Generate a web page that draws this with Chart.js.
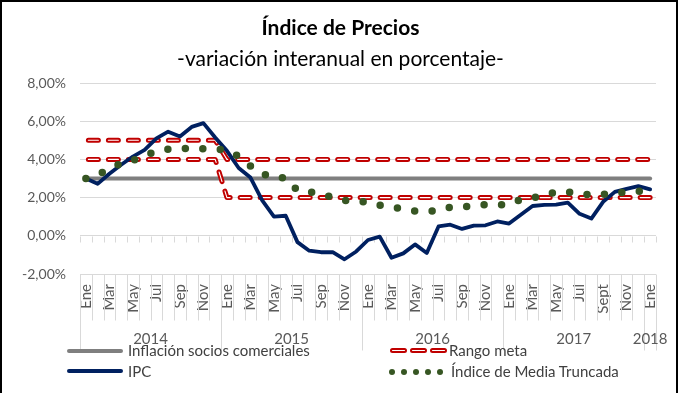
<!DOCTYPE html>
<html>
<head>
<meta charset="utf-8">
<script src="https://cdn.jsdelivr.net/npm/chart.js@4.4.1/dist/chart.umd.min.js"></script>
<style>
html,body{margin:0;padding:0;background:#fff;}
#wrap{position:relative;width:681px;height:393px;overflow:hidden;font-family:Lato,"Open Sans",sans-serif;background:#fff;}
#frame{position:absolute;left:0;top:0;width:678px;height:400px;border:2px solid #000;box-sizing:border-box;pointer-events:none;}
#c{position:absolute;left:0;top:0;}
.t{position:absolute;left:0;width:681px;text-align:center;color:#000;white-space:nowrap;}
#title{top:14px;font-size:21px;font-weight:bold;line-height:26px;}
#sub{top:45px;font-size:21px;line-height:26px;}
.lg{position:absolute;font-size:15px;line-height:18px;color:#404040;white-space:nowrap;}
.sw{position:absolute;}
</style>
</head>
<body>
<div id="wrap">
  <canvas id="c" width="681" height="393"></canvas>
  <div class="t" id="title">Índice de Precios</div>
  <div class="t" id="sub">-variación interanual en porcentaje-</div>

  <div class="sw" style="left:67px;top:349px;width:56px;height:4px;background:#7f7f7f;border-radius:2px;"></div>
  <div class="lg" style="left:128px;top:341px;">Inflación socios comerciales</div>
  <div class="sw" style="left:67px;top:369px;width:56px;height:4px;background:#002060;border-radius:2px;"></div>
  <div class="lg" style="left:128px;top:362px;">IPC</div>

  <div class="sw" style="left:390px;top:348px;width:13px;height:1px;border:2px solid #c00000;border-radius:3px;background:#fff;"></div>
  <div class="sw" style="left:410px;top:348px;width:13px;height:1px;border:2px solid #c00000;border-radius:3px;background:#fff;"></div>
  <div class="sw" style="left:430px;top:348px;width:13px;height:1px;border:2px solid #c00000;border-radius:3px;background:#fff;"></div>
  <div class="lg" style="left:449px;top:341px;">Rango meta</div>

  <div class="sw" style="left:389px;top:369px;width:6px;height:6px;border-radius:3px;background:#375623;"></div>
  <div class="sw" style="left:401px;top:369px;width:6px;height:6px;border-radius:3px;background:#375623;"></div>
  <div class="sw" style="left:413px;top:369px;width:6px;height:6px;border-radius:3px;background:#375623;"></div>
  <div class="sw" style="left:425px;top:369px;width:6px;height:6px;border-radius:3px;background:#375623;"></div>
  <div class="sw" style="left:437px;top:369px;width:6px;height:6px;border-radius:3px;background:#375623;"></div>
  <div class="lg" style="left:451px;top:362px;">Índice de Media Truncada</div>

  <div id="frame"></div>
</div>
<script>
// ---- Data ----
const monthLabels = [
  'Ene','Feb','Mar','Abr','May','Jun','Jul','Ago','Sep','Oct','Nov','Dic',
  'Ene','Feb','Mar','Abr','May','Jun','Jul','Ago','Sep','Oct','Nov','Dic',
  'Ene','Feb','Mar','Abr','May','Jun','Jul','Ago','Sep','Oct','Nov','Dic',
  'Ene','Feb','Mar','Abr','May','Jun','Jul','Ago','Sept','Oct','Nov','Dic',
  'Ene'
];
const yearLabels = ['2014','2015','2016','2017','2018'];
const monthsPerYear = [12,12,12,12,1];
const yTickValues = [-2,0,2,4,6,8];

const ipc = [
  3.00, 2.72, 3.25, 3.72, 4.15, 4.50, 5.10, 5.45, 5.20, 5.70, 5.90, 5.15,
  4.45, 3.55, 3.05, 1.85, 1.00, 1.05, -0.33, -0.78, -0.86, -0.86, -1.23, -0.82,
  -0.22, -0.04, -1.15, -0.92, -0.45, -0.90, 0.49, 0.58, 0.36, 0.53, 0.55, 0.75,
  0.64, 1.10, 1.56, 1.62, 1.63, 1.74, 1.15, 0.90, 1.78, 2.30, 2.46, 2.60,
  2.43
];
const mediaTruncada = [
  3.00, 3.20, 3.49, 3.80, 3.94, 4.20, 4.43, 4.53, 4.57, 4.58, 4.55, 4.55,
  4.47, 4.16, 3.66, 3.25, 3.04, 3.04, 2.37, 2.30, 2.18, 2.02, 1.86, 1.80,
  1.78, 1.60, 1.49, 1.42, 1.30, 1.27, 1.33, 1.49, 1.52, 1.56, 1.63, 1.61,
  1.65, 1.90, 1.99, 2.11, 2.31, 2.29, 2.23, 2.13, 2.17, 2.23, 2.30, 2.33,
  2.38
];
const rangoSup = [
  5,5,5,5,5,5,5,5,5,5,5,5,
  4,4,4,4,4,4,4,4,4,4,4,4,
  4,4,4,4,4,4,4,4,4,4,4,4,
  4,4,4,4,4,4,4,4,4,4,4,4,
  4
];
const rangoInf = [
  4,4,4,4,4,4,4,4,4,4,4,4,
  2,2,2,2,2,2,2,2,2,2,2,2,
  2,2,2,2,2,2,2,2,2,2,2,2,
  2,2,2,2,2,2,2,2,2,2,2,2,
  2
];
const sociosComerciales = [
  3,3,3,3,3,3,3,3,3,3,3,3,
  3,3,3,3,3,3,3,3,3,3,3,3,
  3,3,3,3,3,3,3,3,3,3,3,3,
  3,3,3,3,3,3,3,3,3,3,3,3,
  3
];

// ---- Helpers ----
function categoryBounds(xs, n) {
  const b = [];
  const step = n > 1 ? xs.getPixelForValue(1) - xs.getPixelForValue(0) : 0;
  for (let j = 0; j <= n; j++) {
    if (j === 0) b.push(xs.getPixelForValue(0) - step / 2);
    else if (j === n) b.push(xs.getPixelForValue(n - 1) + step / 2);
    else b.push((xs.getPixelForValue(j - 1) + xs.getPixelForValue(j)) / 2);
  }
  return b;
}
function yearBoundarySet() {
  const s = new Set([0]); let acc = 0;
  monthsPerYear.forEach(m => { acc += m; s.add(acc); });
  return s;
}

const axisDecor = {
  id: 'axisDecor',
  beforeDatasetsDraw(chart) {
    const {ctx, scales: {x, y}} = chart;
    const b = categoryBounds(x, monthLabels.length);
    const y0 = Math.round(y.getPixelForValue(0)) + 0.5;
    ctx.save();
    ctx.strokeStyle = '#d9d9d9'; ctx.lineWidth = 1;
    b.forEach(px => {
      const xx = Math.round(px) + 0.5;
      ctx.beginPath(); ctx.moveTo(xx, y0); ctx.lineTo(xx, y0 + 6); ctx.stroke();
    });
    ctx.restore();
  },
  afterDraw(chart) {
    const {ctx, chartArea: a, scales: {x}} = chart;
    const b = categoryBounds(x, monthLabels.length);
    const ys = yearBoundarySet();
    ctx.save();
    ctx.strokeStyle = '#d9d9d9'; ctx.lineWidth = 1;
    const yb = Math.round(a.bottom) + 0.5;
    b.forEach((px, j) => {
      const xx = Math.round(px) + 0.5;
      ctx.beginPath(); ctx.moveTo(xx, yb); ctx.lineTo(xx, yb + (ys.has(j) ? 76 : 46)); ctx.stroke();
    });
    ctx.fillStyle = '#595959';
    ctx.font = '15px Lato, "Open Sans", sans-serif';
    ctx.textAlign = 'center'; ctx.textBaseline = 'middle';
    let start = 0;
    yearLabels.forEach((lab, k) => {
      const end = start + monthsPerYear[k];
      ctx.fillText(lab, (b[start] + b[end]) / 2, a.bottom + 65);
      start = end;
    });
    ctx.restore();
  }
};

const common = {pointRadius: 0, pointHoverRadius: 0, tension: 0, fill: false, borderJoinStyle: 'round'};
const dash = {borderDash: [10, 10], borderDashOffset: -2.5, borderCapStyle: 'round'};

function draw() {
  new Chart(document.getElementById('c'), {
    type: 'line',
    data: {
      labels: monthLabels,
      datasets: [
        Object.assign({label: 'Índice de Media Truncada', data: mediaTruncada, borderColor: '#375623', borderWidth: 7.5, borderDash: [0, 17.5], borderCapStyle: 'round'}, common),
        Object.assign({label: 'IPC', data: ipc, borderColor: '#002060', borderWidth: 3.8, borderCapStyle: 'round'}, common),
        Object.assign({label: 'Rango meta', data: rangoSup, borderColor: '#ffffff', borderWidth: 1.1}, dash, common),
        Object.assign({label: 'Rango meta', data: rangoInf, borderColor: '#ffffff', borderWidth: 1.1}, dash, common),
        Object.assign({label: 'Rango meta', data: rangoSup, borderColor: '#c00000', borderWidth: 5}, dash, common),
        Object.assign({label: 'Rango meta', data: rangoInf, borderColor: '#c00000', borderWidth: 5}, dash, common),
        Object.assign({label: 'Inflación socios comerciales', data: sociosComerciales, borderColor: '#7f7f7f', borderWidth: 4, borderCapStyle: 'round'}, common)
      ]
    },
    options: {
      responsive: false,
      animation: false,
      devicePixelRatio: 1,
      layout: {padding: {top: 83, right: 25, bottom: 0, left: 0}},
      plugins: {legend: {display: false}, tooltip: {enabled: false}, title: {display: false}},
      scales: {
        x: {
          type: 'category',
          offset: true,
          grid: {display: false, drawTicks: false},
          border: {display: false},
          ticks: {
            autoSkip: false, maxRotation: 90, minRotation: 90, padding: 10,
            color: '#595959', font: {family: 'Lato', size: 15},
            callback: function (v, i) { return i % 2 === 0 ? this.getLabelForValue(v) : ''; }
          },
          afterFit: s => { s.height = 119; }
        },
        y: {
          min: yTickValues[0], max: yTickValues[yTickValues.length - 1],
          afterBuildTicks: s => { s.ticks = yTickValues.map(v => ({value: v})); },
          grid: {color: '#d9d9d9', lineWidth: 1, drawTicks: false},
          border: {display: false},
          ticks: {
            padding: 14, color: '#595959', font: {family: 'Lato', size: 14},
            callback: v => v.toFixed(2).replace('.', ',') + '%'
          },
          afterFit: s => { s.width = 80; }
        }
      }
    },
    plugins: [axisDecor]
  });
}
if (document.fonts && document.fonts.load) {
  Promise.all([document.fonts.load('14px Lato'), document.fonts.load('bold 21px Lato')]).then(draw, draw);
} else { draw(); }
</script>
</body>
</html>
